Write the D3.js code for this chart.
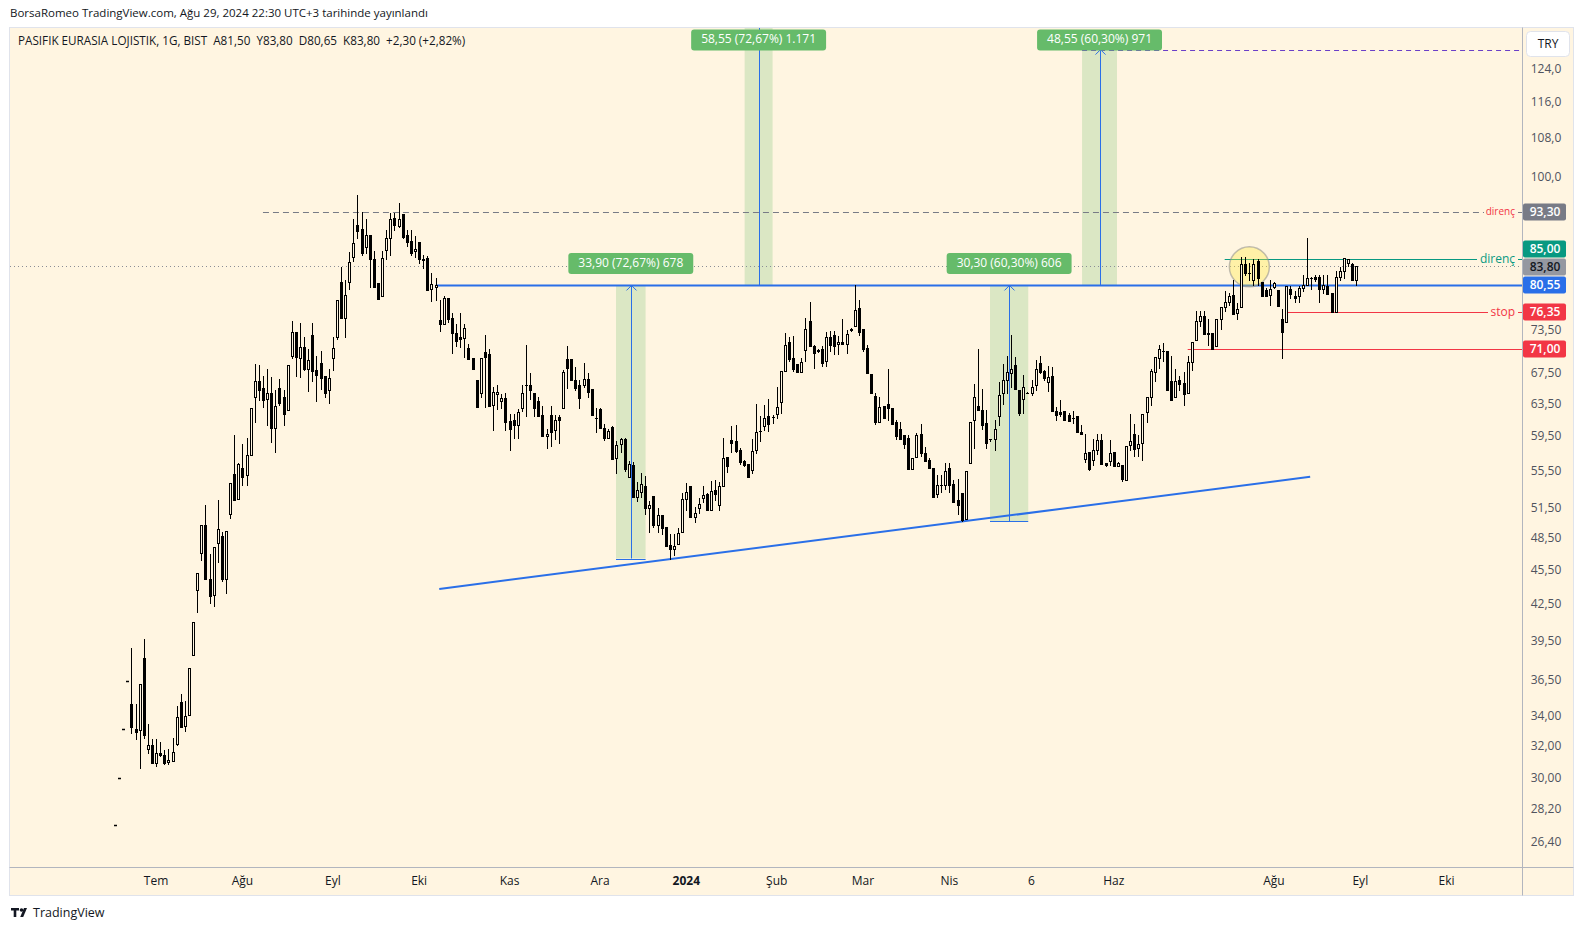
<!DOCTYPE html>
<html><head><meta charset="utf-8">
<script src="https://cdnjs.cloudflare.com/ajax/libs/d3/7.8.5/d3.min.js"></script>
<style>body{margin:0;background:#fff;} svg{display:block;font-family:'Open Sans',sans-serif;}</style>
</head><body><svg id="c" width="1584" height="931"></svg>
<script>
// ---- DATA (daily candles: open, high, low, close) ----
const ohlc = [
[27.4,27.4,27.4,27.4],[30.1,30.1,30.1,30.1],[33.2,33.2,33.2,33.2],[36.5,36.5,36.5,36.5],
[34.9,39.0,32.9,33.3],[33.2,34.9,32.5,33.0],[33.1,36.3,30.7,36.3],[38.2,39.7,32.6,32.8],[31.9,33.5,31.6,32.1],
[32.1,32.5,31.0,31.0],[31.0,32.5,30.8,31.6],[31.6,32.3,31.4,31.5],[31.5,31.8,30.9,31.0],[31.05,31.9,30.9,31.15],
[31.1,32.6,31.1,31.7],[32.2,34.7,32.1,34.0],[35.0,35.6,33.3,33.3],[33.4,35.1,33.05,34.05],[34.1,37.5,34.1,37.5],
[38.5,41.1,38.5,41.1],[43.8,45.3,41.95,45.3],[47.2,49.9,46.5,49.9],[49.9,51.9,44.8,44.8],[44.8,47.1,42.7,43.3],
[43.4,47.7,42.4,47.7],[48.1,52.4,46.3,49.45],[48.8,49.2,44.6,44.8],[44.8,49.3,43.5,49.3],[51.0,54.3,50.6,54.3],
[55.2,59.7,52.4,52.4],[52.5,56.5,52.5,56.4],[55.9,58.7,54.05,54.9],[55.1,59.4,54.0,57.35],[57.4,63.1,57.4,63.1],
[64.4,68.9,61.3,66.5],[66.5,68.7,64.0,65.3],[65.6,67.2,63.2,64.1],[64.2,68.2,60.9,65.0],[65.0,67.1,58.9,60.6],
[60.6,65.4,57.7,63.3],[65.6,66.8,63.4,63.7],[64.4,65.4,60.9,62.3],[62.8,68.7,62.8,68.7],[69.9,75.0,69.6,73.35],
[73.35,73.35,67.25,69.8],[69.7,74.7,67.1,71.2],[71.2,72.6,68.0,68.2],[68.2,70.9,65.2,69.35],[72.95,74.7,66.6,67.9],
[68.0,69.9,63.9,67.4],[69.0,70.6,65.5,66.9],[67.2,67.2,64.4,64.9],[65.3,68.2,63.7,67.0],[69.6,72.7,68.0,71.1],
[72.7,78.2,72.4,78.2],[81.1,83.5,75.5,75.5],[75.5,81.4,72.6,79.1],[81.05,86.2,79.9,84.4],[85.2,92.0,84.6,87.6],
[90.9,96.5,88.6,89.9],[90.1,93.3,85.6,86.0],[86.9,92.0,86.0,89.1],[89.1,89.1,80.35,84.9],[84.9,86.3,80.3,80.3],
[80.9,80.9,78.35,78.35],[78.8,86.3,78.8,85.05],[86.4,90.0,84.9,88.5],[88.5,93.2,85.6,91.95],[92.2,93.2,90.0,90.85],
[90.8,94.9,90.5,92.0],[92.9,92.9,88.5,88.8],[89.1,90.0,87.1,87.9],[88.0,90.0,85.6,86.0],[86.3,89.0,85.2,86.7],
[87.8,87.8,84.3,84.9],[84.9,85.6,83.4,84.8],[85.1,85.4,79.8,79.8],[80.0,82.6,78.1,80.8],[80.3,81.8,78.2,80.6],
[75.2,78.2,73.6,74.5],[74.5,78.8,74.5,78.5],[78.5,78.5,74.8,75.3],[75.5,76.3,70.4,73.3],[73.3,74.6,71.3,72.1],
[72.7,76.3,71.2,72.3],[72.5,74.6,69.8,74.0],[71.1,71.6,69.5,69.5],[69.6,69.6,68.1,68.1],[66.7,66.7,63.2,63.2],
[64.9,69.6,64.5,69.6],[70.5,72.9,63.2,69.8],[70.2,71.0,63.3,63.3],[63.4,65.8,60.3,65.1],[64.8,66.0,62.9,65.1],
[63.9,64.8,63.0,64.3],[64.3,65.0,60.3,61.35],[61.4,62.3,58.0,60.5],[61.6,62.3,59.4,60.9],[60.9,62.9,59.4,62.5],
[63.0,66.0,62.7,64.9],[66.0,71.5,62.0,66.0],[66.0,67.6,64.2,65.3],[64.9,64.9,62.0,63.1],[63.9,64.5,62.0,62.0],
[62.1,63.3,59.65,59.65],[59.6,60.5,58.2,59.8],[62.2,63.3,58.4,60.1],[60.3,62.2,59.2,61.6],[61.9,62.2,58.8,61.6],
[63.1,68.0,63.1,67.7],[69.5,71.3,65.6,68.3],[69.5,69.5,66.7,66.7],[66.7,68.4,65.4,65.6],[66.0,66.7,63.1,64.35],
[66.0,69.0,65.8,66.8],[66.8,67.6,64.4,65.1],[65.5,65.5,62.1,62.1],[61.8,63.1,60.1,61.8],[62.9,63.1,60.6,60.6],
[60.6,61.1,59.1,59.4],[59.4,60.5,59.4,60.2],[60.7,60.8,56.9,56.9],[57.0,59.0,55.3,58.55],[58.6,59.4,57.7,59.3],
[59.3,59.4,55.6,55.8],[54.9,56.7,54.9,56.4],[56.2,56.6,52.8,52.8],[52.8,54.4,52.3,53.5],[53.3,55.3,52.8,54.2],
[53.9,55.0,51.0,51.6],[51.6,52.3,49.2,51.9],[52.9,52.9,49.7,49.9],[49.9,51.6,49.2,50.9],[50.9,50.9,49.0,49.6],
[49.7,49.7,47.8,47.8],[47.9,49.0,46.65,47.5],[47.5,49.0,47.0,47.8],[48.0,49.6,48.0,49.1],[49.2,53.2,49.2,52.5],
[52.5,54.3,51.4,53.3],[53.9,53.9,50.7,50.7],[50.7,51.7,50.2,51.1],[51.6,52.7,51.1,52.0],[52.6,53.9,52.2,53.0],
[53.1,53.2,51.4,51.4],[51.4,54.5,51.4,53.4],[53.5,54.6,52.4,53.1],[51.9,54.4,51.4,53.9],[53.9,59.4,53.9,57.0],
[57.1,57.1,55.5,56.1],[59.1,60.8,57.7,58.8],[59.0,60.9,57.7,57.9],[58.0,58.2,56.4,56.6],[56.7,56.8,56.1,56.3],
[56.4,56.4,54.9,54.9],[55.7,59.2,55.3,57.8],[58.0,63.6,57.6,60.1],[60.2,62.0,59.0,60.2],[60.85,63.4,60.3,61.75],
[62.0,64.2,60.2,61.1],[61.9,62.2,61.2,61.9],[62.3,65.7,61.8,63.2],[63.85,67.9,62.4,67.9],[67.9,73.3,67.9,71.5],
[72.0,72.6,69.2,69.5],[69.7,72.8,67.9,68.2],[68.8,68.8,67.7,67.8],[67.8,69.7,67.8,69.1],[70.8,75.4,69.2,73.9],
[75.0,77.9,71.3,71.3],[71.4,71.5,68.3,70.4],[70.8,70.9,70.5,70.7],[70.9,71.4,68.6,69.0],[69.3,73.4,68.5,72.6],
[72.6,73.6,70.7,71.5],[73.0,73.6,70.2,71.4],[71.7,72.8,70.2,72.0],[72.0,75.3,71.6,71.6],[71.7,73.7,70.3,73.1],
[73.9,74.0,73.6,73.7],[74.3,80.55,74.3,76.7],[77.0,78.3,73.0,73.4],[73.9,73.9,70.6,70.9],[71.1,71.5,67.6,67.6],
[67.5,67.5,64.9,64.9],[64.6,65.0,61.0,61.3],[61.3,64.4,61.3,63.2],[63.3,63.3,61.8,61.8],[63.6,68.1,61.5,63.0],
[63.1,63.1,61.0,61.1],[61.3,61.5,59.3,59.6],[60.4,61.3,59.3,59.3],[59.7,59.7,58.2,58.7],[59.4,59.7,55.8,55.8],
[55.8,57.0,55.8,57.0],[57.2,60.0,57.2,59.7],[59.9,61.0,57.3,57.6],[57.6,58.3,56.7,56.7],[56.8,57.0,55.9,55.9],
[55.9,55.9,52.8,52.8],[53.1,55.1,52.8,54.0],[54.0,55.1,53.3,54.0],[54.0,56.5,53.6,55.6],[55.9,56.5,53.3,54.0],
[54.1,54.6,52.2,52.2],[52.4,54.7,51.0,51.9],[53.2,53.2,50.25,50.4],[50.5,55.6,50.5,55.6],[56.5,61.3,56.5,61.3],
[61.5,66.1,58.2,64.5],[63.3,70.9,62.8,62.8],[62.8,65.5,60.4,60.9],[61.2,62.8,58.2,58.8],[59.2,59.3,59.0,59.2],
[59.2,61.5,58.0,60.4],[62.0,66.4,60.9,64.7],[64.9,68.9,63.6,66.7],[66.7,69.9,64.9,67.7],[67.6,72.9,65.8,68.2],
[68.7,69.8,65.45,65.45],[65.4,65.4,62.2,62.4],[64.2,67.3,62.4,65.7],[65.0,65.1,64.9,65.0],[65.0,66.7,64.7,65.8],
[66.0,69.4,65.4,68.2],[69.0,69.9,67.6,67.8],[67.9,68.0,66.7,66.9],[66.4,68.6,65.2,67.1],[67.2,68.4,62.7,62.7],
[62.7,63.2,61.6,62.2],[62.5,64.0,62.0,62.3],[62.6,62.6,61.5,61.6],[62.2,62.4,61.4,61.4],[61.8,62.7,61.2,61.8],
[62.0,62.0,60.06,60.06],[60.1,60.9,59.8,59.8],[56.9,59.8,56.6,57.6],[57.7,57.7,55.7,55.8],[56.8,59.2,56.3,58.0],
[58.0,59.9,57.5,59.1],[59.1,59.9,56.4,56.4],[56.5,56.5,56.1,56.2],[56.7,59.1,56.3,57.6],[57.7,57.7,56.1,56.1],
[56.1,56.6,56.1,56.5],[56.2,56.2,54.5,54.7],[54.6,58.4,54.6,58.4],[58.5,62.3,58.0,59.0],[59.9,61.0,57.3,58.1],
[58.2,59.7,57.3,58.6],[58.8,62.3,56.8,62.3],[62.5,64.4,61.3,64.4],[64.4,68.1,63.4,67.9],[67.8,69.8,66.5,69.8],
[69.7,71.5,68.3,70.9],[70.7,71.8,69.3,70.7],[70.7,70.7,65.3,65.3],[66.6,70.0,64.0,64.0],[64.4,68.2,64.4,66.5],
[66.7,67.2,65.4,66.2],[66.3,67.7,63.4,64.8],[64.9,69.9,64.9,69.1],[69.1,71.9,68.0,71.9],[72.2,76.5,72.2,75.07],
[75.0,76.6,74.3,75.8],[75.8,76.6,73.1,73.1],[73.1,75.3,71.5,73.3],[73.3,73.3,70.9,70.9],[71.3,75.3,71.3,75.3],
[75.3,77.2,73.9,77.1],[77.1,79.6,76.6,78.0],[78.0,79.3,77.5,78.9],[79.0,81.4,76.1,76.1],[76.3,77.7,75.3,76.8],
[77.2,85.3,77.2,84.0],[84.0,85.3,82.2,82.5],[82.5,84.2,81.4,82.5],[81.5,85.0,80.6,84.0],[84.6,85.0,80.6,81.8],
[81.1,81.1,78.8,78.8],[79.8,80.1,78.8,78.9],[79.0,81.4,77.4,79.9],[80.3,81.1,80.1,80.9],[79.8,79.8,77.35,77.35],
[75.3,76.9,69.7,73.4],[74.9,80.46,74.9,80.46],[79.9,80.5,78.5,79.2],[78.9,79.7,78.0,78.5],[78.9,80.5,78.0,80.2],
[80.1,82.2,79.7,80.7],[80.7,88.5,80.7,81.8],[81.8,82.0,80.0,81.8],[81.9,82.3,81.2,81.6],[82.0,82.3,77.9,80.0],
[80.0,82.3,79.4,80.7],[80.4,82.3,79.2,79.2],[79.3,79.3,76.35,76.35],[76.4,82.9,76.4,81.9],[81.9,83.5,81.4,82.9],
[82.9,85.05,81.8,85.05],[84.2,85.0,83.8,84.9],[84.0,84.2,81.5,81.5],[81.5,83.8,80.65,83.8]
];
const priceTicks = [124,116,108,100,73.5,67.5,63.5,59.5,55.5,51.5,48.5,45.5,42.5,39.5,36.5,34,32,30,28.2,26.4];
const priceTickLabels = ["124,0","116,0","108,0","100,0","73,50","67,50","63,50","59,50","55,50","51,50","48,50","45,50","42,50","39,50","36,50","34,00","32,00","30,00","28,20","26,40"];
const monthBars = [10,31,53,74,96,118,139,161,182,203,223,243,282,303,324];
const monthLabels = ["Tem","Ağu","Eyl","Eki","Kas","Ara","2024","Şub","Mar","Nis","6","Haz","Ağu","Eyl","Eki"];
// horizontal levels
const levelPrices = [93.30, 85.00, 83.80, 80.55, 76.35, 71.00];
const levelStartBars = [36, 270, -26, 78, 285, 261];
const levelTexts = ["direnç", "direnç", "", "", "stop", ""];
const badgeLabels = ["93,30","85,00","83,80","80,55","76,35","71,00"];
// trend line (bar, price)
const trendBars = [78.9, 290.8];
const trendPrices = [43.9, 54.94];
// measurement boxes
const boxBarsFrom = [121.9, 153.2, 212.9, 235.3];
const boxBarsTo = [129.1, 160.0, 222.2, 243.8];
const boxPriceFrom = [46.65, 80.55, 50.25, 80.55];
const boxPriceTo = [80.55, 139.10, 80.55, 129.10];
const boxLabels = ["33,90 (72,67%) 678","58,55 (72,67%) 1.171","30,30 (60,30%) 606","48,55 (60,30%) 971"];
const targetLine = [235.3, 129.10];
const circleCenter = [276.0, 83.6];

// ---- DRAW ----
const svg = d3.select('#c');
const BG = '#fff5e1';
const L = 10, R = 1522, T = 27, B = 867;
const x = d3.scaleLinear().domain([-25.55, 342.34]).range([L, R]);
const y = d3.scaleLog().domain([135.07, 25.17]).range([T, B]);
const blue = '#2a6fe8';

svg.append('text').attr('x', 10).attr('y', 14).attr('dominant-baseline', 'middle')
  .attr('font-size', 11.5).attr('fill', '#131722')
  .text('BorsaRomeo TradingView.com, Ağu 29, 2024 22:30 UTC+3 tarihinde yayınlandı');

svg.append('rect').attr('x', 9.5).attr('y', 27.5).attr('width', 1564).attr('height', 868)
  .attr('fill', BG).attr('stroke', '#e0e3eb');

svg.append('defs').append('clipPath').attr('id', 'pc').append('rect')
  .attr('x', L).attr('y', T + 1).attr('width', R - L).attr('height', B - T - 1);
const plot = svg.append('g').attr('clip-path', 'url(#pc)');

// measurement boxes (shade)
boxLabels.forEach((t, i) => {
  const x0 = x(boxBarsFrom[i]), x1 = x(boxBarsTo[i]);
  const yA = y(boxPriceFrom[i]), yB = y(boxPriceTo[i]);
  plot.append('rect').attr('x', x0).attr('width', x1 - x0)
    .attr('y', Math.min(yA, yB)).attr('height', Math.abs(yA - yB))
    .attr('fill', 'rgba(76,175,80,0.2)');
});

// dotted last price line
plot.append('line').attr('x1', L).attr('x2', R)
  .attr('y1', Math.round(y(levelPrices[2])) + 0.5).attr('y2', Math.round(y(levelPrices[2])) + 0.5)
  .attr('stroke', '#8a8d96').attr('stroke-dasharray', '1,3');

// top dashed resistance
const yR = Math.round(y(levelPrices[0])) + 0.5;
plot.append('line').attr('x1', x(levelStartBars[0])).attr('x2', 1484).attr('y1', yR).attr('y2', yR)
  .attr('stroke', '#787b86').attr('stroke-dasharray', '6,4');
plot.append('line').attr('x1', 1518).attr('x2', R).attr('y1', yR).attr('y2', yR).attr('stroke', '#787b86');
svg.append('text').attr('x', 1515).attr('y', yR).attr('text-anchor', 'end').attr('dominant-baseline', 'middle')
  .attr('font-size', 10).attr('fill', '#f23645').text(levelTexts[0]);

// green resistance
const yG = Math.round(y(levelPrices[1])) + 0.5;
plot.append('line').attr('x1', x(levelStartBars[1])).attr('x2', 1477).attr('y1', yG).attr('y2', yG)
  .attr('stroke', '#089981');
plot.append('line').attr('x1', 1518).attr('x2', R).attr('y1', yG).attr('y2', yG).attr('stroke', '#089981');
svg.append('text').attr('x', 1515).attr('y', yG).attr('text-anchor', 'end').attr('dominant-baseline', 'middle')
  .attr('font-size', 12).attr('fill', '#089981').text(levelTexts[1]);

// stop lines
const yS = Math.round(y(levelPrices[4])) + 0.5;
plot.append('line').attr('x1', x(levelStartBars[4])).attr('x2', 1488).attr('y1', yS).attr('y2', yS)
  .attr('stroke', '#f23645');
plot.append('line').attr('x1', 1518).attr('x2', R).attr('y1', yS).attr('y2', yS).attr('stroke', '#f23645');
svg.append('text').attr('x', 1515).attr('y', yS).attr('text-anchor', 'end').attr('dominant-baseline', 'middle')
  .attr('font-size', 12).attr('fill', '#f23645').text(levelTexts[4]);
const yS2 = Math.round(y(levelPrices[5])) + 0.5;
plot.append('line').attr('x1', x(levelStartBars[5])).attr('x2', R).attr('y1', yS2).attr('y2', yS2)
  .attr('stroke', '#f23645');

// target dashed purple line
const yP = Math.round(y(targetLine[1])) + 0.5;
plot.append('line').attr('x1', x(targetLine[0])).attr('x2', R).attr('y1', yP).attr('y2', yP)
  .attr('stroke', '#6a3fc8').attr('stroke-dasharray', '5,4');

// measurement arrows
boxLabels.forEach((t, i) => {
  const x0 = x(boxBarsFrom[i]), x1 = x(boxBarsTo[i]);
  const xc = Math.round((x0 + x1) / 2) + 0.5;
  const yA = y(boxPriceFrom[i]), yB = y(boxPriceTo[i]);
  plot.append('line').attr('x1', x0).attr('x2', x1).attr('y1', Math.round(yA) + 0.5).attr('y2', Math.round(yA) + 0.5)
    .attr('stroke', blue);
  plot.append('line').attr('x1', xc).attr('x2', xc).attr('y1', yA).attr('y2', yB).attr('stroke', blue);
  plot.append('path').attr('d', `M${xc - 5},${yB + 5}L${xc},${yB}L${xc + 5},${yB + 5}`)
    .attr('fill', 'none').attr('stroke', blue);
});

// neckline
const yN = y(levelPrices[3]);
plot.append('line').attr('x1', x(levelStartBars[3])).attr('x2', R).attr('y1', yN).attr('y2', yN)
  .attr('stroke', blue).attr('stroke-width', 2);

// trend line
plot.append('line').attr('x1', x(trendBars[0])).attr('y1', y(trendPrices[0]))
  .attr('x2', x(trendBars[1])).attr('y2', y(trendPrices[1]))
  .attr('stroke', blue).attr('stroke-width', 2);

// yellow circle
plot.append('circle').attr('cx', x(circleCenter[0])).attr('cy', y(circleCenter[1])).attr('r', 20)
  .attr('fill', 'rgba(255,235,59,0.35)').attr('stroke', 'rgba(140,140,140,0.55)').attr('stroke-width', 1.5);

// candles
const cg = plot.append('g');
ohlc.forEach((d, i) => {
  const [o, h, l, c] = d;
  const xc = Math.round(x(i)) + 0.5;
  const up = c >= o;
  const yTop = Math.round(y(Math.max(o, c))) + 0.5;
  const yBot = Math.round(y(Math.min(o, c))) + 0.5;
  const yH = Math.round(y(h)), yL = Math.round(y(l)) + 1;
  if (h === l) {
    cg.append('line').attr('x1', xc - 1.5).attr('x2', xc + 1.5).attr('y1', yTop).attr('y2', yTop)
      .attr('stroke', '#000').attr('stroke-width', 1.5);
    return;
  }
  cg.append('line').attr('x1', xc).attr('x2', xc).attr('y1', yH).attr('y2', yL).attr('stroke', '#000');
  if (yBot - yTop < 1) {
    cg.append('line').attr('x1', xc - 1.5).attr('x2', xc + 1.5).attr('y1', yTop).attr('y2', yTop).attr('stroke', '#000');
  } else {
    cg.append('rect').attr('x', xc - 1).attr('width', 2).attr('y', yTop).attr('height', yBot - yTop)
      .attr('fill', up ? BG : '#000').attr('stroke', '#000');
  }
});

// measurement labels
boxLabels.forEach((t, i) => {
  const x0 = x(boxBarsFrom[i]), x1 = x(boxBarsTo[i]);
  const xc = (x0 + x1) / 2;
  const yB = y(boxPriceTo[i]);
  const top = Math.max(29.5, yB - 32.5);
  const g = svg.append('g');
  const tx = g.append('text').attr('x', xc).attr('y', top + 10.5).attr('text-anchor', 'middle')
    .attr('dominant-baseline', 'middle').attr('font-size', 12).attr('fill', '#fff').text(t);
  const w = tx.node().getComputedTextLength() + 20;
  g.insert('rect', 'text').attr('x', xc - w / 2).attr('y', top).attr('width', w).attr('height', 21)
    .attr('rx', 3).attr('fill', '#66bb6a');
});

// axes separators
svg.append('line').attr('x1', 9.5).attr('x2', 1573.5).attr('y1', B + 0.5).attr('y2', B + 0.5).attr('stroke', '#b2b5be');
svg.append('line').attr('x1', R + 0.5).attr('x2', R + 0.5).attr('y1', 27.5).attr('y2', 895.5).attr('stroke', '#b2b5be');

// price axis ticks
priceTicks.forEach((p, i) => {
  svg.append('text').attr('x', 1546).attr('y', y(p)).attr('text-anchor', 'middle')
    .attr('dominant-baseline', 'middle').attr('font-size', 12).attr('fill', '#50535e').text(priceTickLabels[i]);
});

// badges
const badgeFill = ['#787b86', '#089981', '#9598a1', blue, '#f23645', '#f23645'];
const badgeText = ['#fff', '#fff', '#131722', '#fff', '#fff', '#fff'];
const badgeOffset = [0, -10, 1, 0, 0, 0];
levelPrices.forEach((p, i) => {
  const cy = Math.round(y(p)) + badgeOffset[i];
  svg.append('rect').attr('x', R + 1).attr('y', cy - 8.5).attr('width', 43).attr('height', 17)
    .attr('rx', 2).attr('fill', badgeFill[i]);
  svg.append('text').attr('x', R + 23).attr('y', cy + 0.5).attr('text-anchor', 'middle')
    .attr('dominant-baseline', 'middle').attr('font-size', 12).attr('font-weight', 600)
    .attr('fill', badgeText[i]).text(badgeLabels[i]);
});

// currency box
svg.append('rect').attr('x', 1526.5).attr('y', 31.5).attr('width', 43).attr('height', 25).attr('rx', 4)
  .attr('fill', '#fff').attr('stroke', '#e0e3eb');
svg.append('text').attr('x', 1548).attr('y', 44.5).attr('text-anchor', 'middle').attr('dominant-baseline', 'middle')
  .attr('font-size', 12).attr('fill', '#131722').text('TRY');

// time axis labels
monthBars.forEach((b, i) => {
  svg.append('text').attr('x', x(b)).attr('y', 882).attr('text-anchor', 'middle').attr('dominant-baseline', 'middle')
    .attr('font-size', 12).attr('fill', '#131722').attr('font-weight', monthLabels[i] === '2024' ? 700 : 400)
    .text(monthLabels[i]);
});

// legend text
svg.append('text').attr('x', 18).attr('y', 41.5).attr('dominant-baseline', 'middle').attr('font-size', 11.7)
  .attr('fill', '#131722').attr('xml:space', 'preserve')
  .text('PASIFIK EURASIA LOJISTIK, 1G, BIST  A81,50  Y83,80  D80,65  K83,80  +2,30 (+2,82%)');

// logo
const lg = svg.append('g').attr('transform', 'translate(11,908)');
lg.append('path').attr('d', 'M0,0H8V2.5H5.3V9H2.7V2.5H0Z').attr('fill', '#131722');
lg.append('circle').attr('cx', 10.5).attr('cy', 2).attr('r', 1.8).attr('fill', '#131722');
lg.append('path').attr('d', 'M13,0H16L12.2,9H9.2Z').attr('fill', '#131722');
svg.append('text').attr('x', 33).attr('y', 913.5).attr('dominant-baseline', 'middle').attr('font-size', 12.5)
  .attr('fill', '#131722').text('TradingView');
</script></body></html>
